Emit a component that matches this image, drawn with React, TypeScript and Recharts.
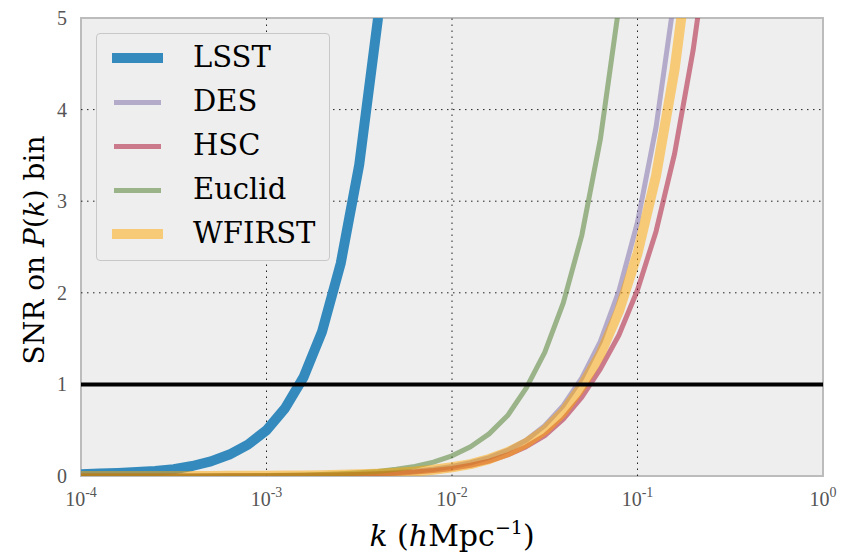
import React from "react";
import { LineChart, Line, XAxis, YAxis, CartesianGrid, ReferenceLine, ReferenceArea } from "recharts";

const logK = [-4.0,-3.9,-3.8,-3.7,-3.6,-3.5,-3.4,-3.3,-3.2,-3.1,-3.0,-2.9,-2.8,-2.7,-2.6,-2.5,-2.4,-2.3,-2.2,-2.1,-2.0,-1.9,-1.8,-1.7,-1.6,-1.5,-1.4,-1.3,-1.2,-1.1,-1.0,-0.9,-0.8,-0.7,-0.6,-0.5];

const lsst = [0.02,0.026,0.033,0.043,0.056,0.074,0.109,0.16,0.234,0.343,0.5,0.74,1.08,1.58,2.32,3.4,4.98,7.3];
const des = [0.00013,0.00018,0.00026,0.00035,0.0005,0.0007,0.001,0.0013,0.0019,0.0026,0.0037,0.0051,0.0072,0.010,0.014,0.020,0.027,0.038,0.053,0.074,0.104,0.145,0.20,0.28,0.39,0.55,0.77,1.07,1.47,2.02,2.77,3.81,5.24,7.2];
const hsc = [0.0001,0.00015,0.0002,0.0003,0.0004,0.00056,0.0008,0.0011,0.0015,0.0021,0.0030,0.0042,0.0058,0.0081,0.011,0.016,0.022,0.031,0.043,0.060,0.083,0.117,0.163,0.23,0.32,0.44,0.62,0.86,1.17,1.54,2.03,2.67,3.52,4.65,6.1,8.1];
const euclid = [0.00014,0.0002,0.0003,0.0004,0.0006,0.0009,0.0013,0.0018,0.0026,0.0038,0.0055,0.0080,0.0116,0.017,0.024,0.035,0.050,0.073,0.105,0.152,0.22,0.32,0.46,0.66,0.96,1.35,1.89,2.63,3.68,5.13,7.2];
const wfirst = [0.00012,0.00017,0.00023,0.00032,0.00046,0.00063,0.00089,0.0012,0.0017,0.0024,0.0034,0.0047,0.0066,0.0092,0.013,0.018,0.025,0.035,0.049,0.068,0.095,0.13,0.185,0.26,0.36,0.50,0.70,0.98,1.33,1.80,2.43,3.28,4.44,6.0,8.1];

const xTickExps = [-4, -3, -2, -1, 0];
const yTicks = [0, 1, 2, 3, 4, 5];
const gridX = [1e-3, 1e-2, 1e-1];
const gridY = [1, 2, 3, 4];
const threshold = 1;

const seriesInfo = [
  { key: "LSST", color: "#348ABD", opacity: 1, width: 10 },
  { key: "DES", color: "#7A68A6", opacity: 0.5, width: 5 },
  { key: "HSC", color: "#A60628", opacity: 0.5, width: 5 },
  { key: "Euclid", color: "#467821", opacity: 0.5, width: 5 },
  { key: "WFIRST", color: "#FFA500", opacity: 0.5, width: 10 },
];
const seriesValues: Record<string, number[]> = { LSST: lsst, DES: des, HSC: hsc, Euclid: euclid, WFIRST: wfirst };

const data = logK.map((lk, i) => {
  const row: Record<string, number | null> = { k: Math.pow(10, lk) };
  for (const s of seriesInfo) {
    const arr = seriesValues[s.key];
    row[s.key] = i < arr.length ? arr[i] : null;
  }
  return row;
});

const SERIF = "'DejaVu Serif', serif";
const TICKFONT = "'Liberation Serif', serif";

const XTick = (props: any) => {
  const { x, y, payload } = props;
  const e = Math.round(Math.log10(payload.value));
  return (
    <text x={x} y={y + 22} textAnchor="middle" fill="#555" fontFamily={TICKFONT} fontSize={20}>
      <tspan>10</tspan>
      <tspan dy={-9} fontSize={14}>{String(e)}</tspan>
    </text>
  );
};

const YTick = (props: any) => {
  const { x, y, payload } = props;
  return (
    <text x={x - 6} y={y + 7} textAnchor="end" fill="#555" fontFamily={TICKFONT} fontSize={20}>
      {payload.value}
    </text>
  );
};

const LegendBox = () => (
  <div
    style={{
      position: "absolute",
      left: 96,
      top: 33,
      width: 234,
      height: 228,
      background: "#EEEEEE",
      border: "1px solid #c8c8c8",
      borderRadius: 4,
      boxSizing: "border-box",
    }}
  >
    {seriesInfo.map((s, i) => (
      <div key={s.key} style={{ position: "absolute", left: 0, top: 2 + i * 44, height: 44, width: 232 }}>
        <div
          style={{
            position: "absolute",
            left: s.width > 6 ? 15 : 17,
            top: 22 - s.width / 2,
            width: s.width > 6 ? 51 : 47,
            height: s.width,
            background: s.color,
            opacity: s.opacity,
          }}
        />
        <div
          style={{
            position: "absolute",
            left: 96,
            top: 3,
            fontFamily: SERIF,
            fontSize: 29,
            lineHeight: "36px",
            color: "#000",
            whiteSpace: "nowrap",
          }}
        >
          {s.key}
        </div>
      </div>
    ))}
  </div>
);

export default function App() {
  return (
    <div style={{ position: "absolute", left: 0, top: 0, width: 850, height: 553, background: "#fff" }}>
      <LineChart width={850} height={553} data={data} margin={{ top: 18, right: 27, left: 0, bottom: 0 }}>
        <CartesianGrid fill="#EEEEEE" horizontal={false} vertical={false} />
        {gridX.map((g) => (
          <ReferenceLine key={"gx" + g} x={g} stroke="#222" strokeWidth={1} strokeDasharray="1.5 4.5" />
        ))}
        {gridY.map((g) => (
          <ReferenceLine key={"gy" + g} y={g} stroke="#222" strokeWidth={1} strokeDasharray="1.5 4.5" />
        ))}
        <XAxis
          dataKey="k"
          type="number"
          scale="log"
          domain={[1e-4, 1]}
          allowDataOverflow
          ticks={xTickExps.map((e) => Math.pow(10, e))}
          tick={<XTick />}
          tickLine={false}
          axisLine={false}
          height={77}
          interval={0}
          label={{
            content: () => (
              <text x={452} y={546} textAnchor="middle" fontFamily={SERIF} fontSize={30} fill="#000">
                <tspan fontStyle="italic">k</tspan>
                <tspan> (</tspan>
                <tspan fontStyle="italic">h</tspan>
                <tspan>Mpc</tspan>
                <tspan dy={-12} fontSize={19}>−1</tspan>
                <tspan dy={12}>)</tspan>
              </text>
            ),
          }}
        />
        <YAxis
          type="number"
          domain={[0, 5]}
          allowDataOverflow
          ticks={yTicks}
          tick={<YTick />}
          tickLine={false}
          axisLine={false}
          width={81}
          interval={0}
          label={{
            content: () => (
              <text
                x={0}
                y={0}
                transform="translate(44,250) rotate(-90)"
                textAnchor="middle"
                fontFamily={SERIF}
                fontSize={28}
                fill="#000"
              >
                <tspan>SNR on </tspan>
                <tspan fontStyle="italic">P</tspan>
                <tspan>(</tspan>
                <tspan fontStyle="italic">k</tspan>
                <tspan>) bin</tspan>
              </text>
            ),
          }}
        />
        {seriesInfo.map((s) => (
          <Line
            key={s.key}
            dataKey={s.key}
            stroke={s.color}
            strokeOpacity={s.opacity}
            strokeWidth={s.width}
            dot={false}
            activeDot={false}
            isAnimationActive={false}
            connectNulls={false}
            strokeLinejoin="round"
          />
        ))}
        <ReferenceLine y={threshold} stroke="#000" strokeWidth={4} />
        <ReferenceArea x1={1e-4} x2={1} y1={0} y2={5} fill="none" stroke="#bcbcbc" strokeWidth={2} ifOverflow="visible" />
      </LineChart>
      <LegendBox />
    </div>
  );
}
